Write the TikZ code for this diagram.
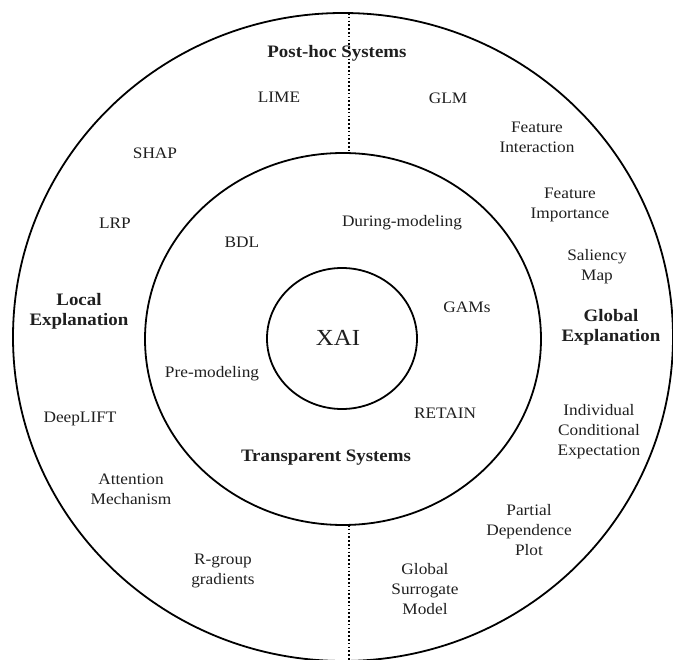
\documentclass[tikz,border=0pt]{standalone}
\usepackage{fontspec}
\setmainfont[FakeStretch=1.08]{Liberation Serif}
\begin{document}
\begin{tikzpicture}[x=1pt,y=-1pt,
  ring/.style={line width=1.8pt},
  sep/.style={line width=1.6pt, dash pattern=on 1.6pt off 2.2pt},
  lbl/.style={align=center, font=\fontsize{16}{20}\selectfont, inner sep=0pt, text=black!88},
  hdr/.style={align=center, font=\fontsize{17.5}{19.5}\selectfont\bfseries, inner sep=0pt, text=black!88},
  big/.style={font=\fontsize{23}{25}\selectfont, inner sep=0pt, text=black!88}]
\useasboundingbox (0,0) rectangle (673,660);
\clip (0,0) rectangle (673,660);
% rings
\draw[ring] (343,337) ellipse [x radius=330, y radius=324];
\draw[ring] (343,339) ellipse [x radius=198, y radius=186];
\draw[ring] (342,338.5) ellipse [x radius=75, y radius=70.5];
% separator end points
\coordinate (septopA) at (349,13);
\coordinate (septopB) at (349,153);
\coordinate (sepbotA) at (349,525);
\coordinate (sepbotB) at (349,661);
\draw[sep] (septopA) -- (septopB);
\draw[sep] (sepbotA) -- (sepbotB);
% labels
\node[hdr] (post) at (337,53) {Post-hoc Systems};
\node[lbl] (lime) at (279,97) {LIME};
\node[lbl] (glm) at (448,98) {GLM};
\node[lbl] (shap) at (155,153) {SHAP};
\node[lbl] (fint) at (537,137.5) {Feature\\Interaction};
\node[lbl] (fimp) at (570,205) {Feature\\Importance};
\node[lbl] (lrp) at (115,223) {LRP};
\node[lbl] (during) at (402,223) {During-modeling};
\node[lbl] (bdl) at (242,242) {BDL};
\node[lbl] (sal) at (597,267) {Saliency\\Map};
\node[lbl] (gams) at (467,307) {GAMs};
\node[hdr] (local) at (79,311.5) {Local\\Explanation};
\node[hdr] (global) at (611,327.5) {Global\\Explanation};
\node[big] (xai) at (338,338) {XAI};
\node[lbl] (pre) at (212,374) {Pre-modeling};
\node[lbl] (deeplift) at (80,419) {DeepLIFT};
\node[lbl] (retain) at (445,413) {RETAIN};
\node[lbl] (ice) at (599,432) {Individual\\Conditional\\Expectation};
\node[hdr] (transp) at (326,458) {Transparent Systems};
\node[lbl] (att) at (131,489.5) {Attention\\Mechanism};
\node[lbl] (pdp) at (529,530) {Partial\\Dependence\\Plot};
\node[lbl] (rgrp) at (223,571) {R-group\\gradients};
\node[lbl] (gsm) at (425,589) {Global\\Surrogate\\Model};
\end{tikzpicture}
\end{document}
